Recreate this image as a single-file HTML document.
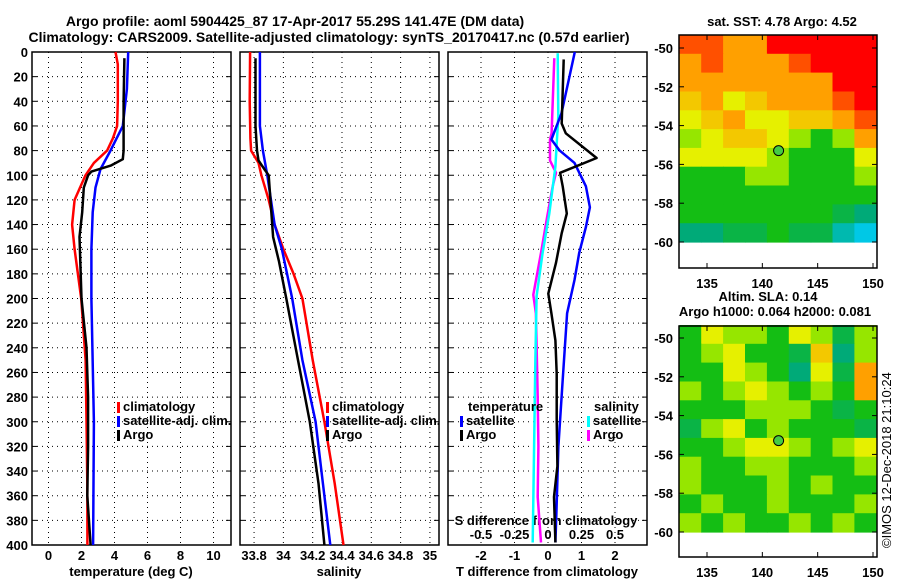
<!DOCTYPE html>
<html><head><meta charset="utf-8">
<style>
body{margin:0;background:#fff;}
svg{display:block;font-family:"Liberation Sans",sans-serif;font-weight:bold;font-size:13px;}
</style></head>
<body>
<svg id="c" width="900" height="580" xmlns="http://www.w3.org/2000/svg">
<text x="295" y="26" text-anchor="middle" font-size="14">Argo profile: aoml 5904425_87 17-Apr-2017 55.29S 141.47E (DM data)</text>
<text x="329" y="42" text-anchor="middle" font-size="14" textLength="601">Climatology: CARS2009. Satellite-adjusted climatology: synTS_20170417.nc (0.57d earlier)</text>
<text x="782" y="26" text-anchor="middle">sat. SST: 4.78 Argo: 4.52</text>
<text x="768" y="301" text-anchor="middle">Altim. SLA: 0.14</text>
<text x="775" y="316" text-anchor="middle">Argo h1000: 0.064 h2000: 0.081</text>
<text transform="translate(891,548) rotate(-90)" font-weight="normal" font-size="13">©IMOS 12-Dec-2018 21:10:24</text>
</svg>
<script>
// ---------- data ----------
const tClimDepth=[0,10,40,60,70,80,90,100,120,140,160,180,200,250,300,350,400];
const tClimVal=[4.06,4.2,4.2,4.16,3.9,3.55,2.75,2.24,1.58,1.43,1.58,1.78,1.98,2.25,2.3,2.35,2.36];
const tArgoDepth=[5,40,80,87,92,97,100,110,130,150,180,200,240,280,320,360,400];
const tArgoVal=[4.6,4.55,4.55,4.5,3.8,2.6,2.4,2.14,2.04,1.88,1.95,2.0,2.3,2.4,2.4,2.35,2.55];
const tSatDepth=[0,30,60,80,95,110,130,160,200,300,400];
const tSatVal=[4.83,4.75,4.5,3.76,3.15,2.85,2.68,2.6,2.6,2.75,2.7];
const sClimDepth=[0,40,70,80,90,100,120,140,160,180,200,250,300,350,400];
const sClimVal=[33.773,33.77,33.775,33.78,33.83,33.85,33.9,33.94,34.0,34.07,34.13,34.2,34.28,34.35,34.41];
const sArgoDepth=[5,60,80,88,95,100,150,170,200,250,300,350,400];
const sArgoVal=[33.81,33.81,33.82,33.83,33.87,33.9,33.93,33.97,34.02,34.1,34.18,34.24,34.28];
const sSatDepth=[0,60,80,100,140,160,200,250,300,350,400];
const sSatVal=[33.84,33.84,33.86,33.89,33.94,33.99,34.06,34.13,34.22,34.27,34.32];
const dTArgoDepth=[6,58,66,86,98,109,131,147,171,196,212,234,261,298,336,361,398];
const dTArgoVal=[0.47,0.41,0.53,1.45,0.36,0.44,0.56,0.41,0.24,0.01,0.1,0.22,0.26,0.26,0.28,0.18,0.22];
const dTSatDepth=[0,50,71,80,90,109,126,142,163,185,212,266,320,374,398];
const dTSatVal=[0.8,0.4,0.1,0.35,0.79,1.13,1.25,1.13,0.93,0.79,0.57,0.44,0.31,0.25,0.22];
const dSArgoDepth=[5,66,71,88,98,109,134,163,197,212,280,320,361,398];
const dSArgoVal=[0.047,0.027,0.015,0.015,0.06,0.035,-0.007,-0.052,-0.11,-0.09,-0.077,-0.072,-0.077,-0.052];
const dSSatDepth=[1,52,93,131,163,198,253,320,398];
const dSSatVal=[0.072,0.077,0.055,0.01,-0.04,-0.085,-0.095,-0.104,-0.114];
const depthTicks=[0,20,40,60,80,100,120,140,160,180,200,220,240,260,280,300,320,340,360,380,400];
const tTicks=[0,2,4,6,8,10];
const sTicks=[33.8,34,34.2,34.4,34.6,34.8,35];
const sTickLabels=['33.8','34','34.2','34.4','34.6','34.8','35'];
const dTTicks=[-2,-1,0,1,2];
const dSTicks=[-0.5,-0.25,0,0.25,0.5];
const lonTicks=[135,140,145,150];
const latTicks=[-50,-52,-54,-56,-58,-60];
const sstGrid=[
[5.5,5.5,5,5,6,6,6,6,6],
[5,5.5,5,5,5,5.5,6,6,6],
[5,5,5,5,5,5,5,6,6],
[4.5,5,4,4.5,5,5,5,5.5,6],
[4,4.5,5,4,4,4.5,4.5,5,5.5],
[3.5,4,4.5,4.5,4,3.5,3,3.5,5],
[4,4,4,4,3.5,3,3,3,4],
[3,3,3,3.5,3.5,3,3,3,3.5],
[3,3,3,3,3,3,3,3,3],
[3,3,3,3,3,3,3,2.5,2],
[2,2,2.5,2.5,3,2.5,2.5,1.5,1]];
const slaGrid=[
[3,4,3.5,3.5,3,4,3.5,2.5,3.5],
[3,3.5,4,3,3,2.5,4.5,2,3.5],
[3,3,4,3.5,3,2,4,2.5,5],
[3.5,3,3.5,4,3.5,3,3.5,3,5],
[3,3,3,3.5,3.5,3.5,3,2.5,3],
[2.5,3.5,4,3,3.5,3,3,3,2.5],
[3,3,3.5,4,4,3.5,3,3.5,4],
[3.5,3,3,3.5,3.5,3,3,3,3.5],
[3.5,3,3,3,3.5,3,3.5,3,3],
[3,3.5,3,3,3.5,3,3,3,3.5],
[3.5,3,3.5,3,3,3.5,3,3.5,3]];
const argoLon=141.47, argoLat=-55.29;

// ---------- drawing ----------
const svg=document.getElementById('c');
const NS='http://www.w3.org/2000/svg';
function mk(tag,attrs,parent){const e=document.createElementNS(NS,tag);for(const k in attrs)e.setAttribute(k,attrs[k]);(parent||svg).appendChild(e);return e;}
function txt(x,y,s,anchor,parent){const t=mk('text',{x:x,y:y,'text-anchor':anchor||'middle'},parent);t.textContent=s;return t;}
const top0=52,bot0=545;
const yD=d=>top0+(bot0-top0)*d/400;

function panel(name,x0,x1,lo,hi){
  const g=mk('g',{});
  
  
  const xs=v=>x0+(x1-x0)*(v-lo)/(hi-lo);
  return {g,xs,x0,x1};
}
function grid(p,vticks){
  depthTicks.forEach(d=>{if(d>0&&d<400){const l=mk('line',{x1:p.x0,x2:p.x1,y1:yD(d),y2:yD(d),stroke:'#000','stroke-dasharray':'1 4'},p.g);
    
    }
    mk('line',{x1:p.x0,x2:p.x0+5,y1:yD(d),y2:yD(d),stroke:'#000'},p.g);
    mk('line',{x1:p.x1-5,x2:p.x1,y1:yD(d),y2:yD(d),stroke:'#000'},p.g);});
  vticks.forEach(v=>{const x=p.xs(v);const l=mk('line',{x1:x,x2:x,y1:top0,y2:bot0,stroke:'#000','stroke-dasharray':'1 4'},p.g);
    
    });
  const r=mk('rect',{x:p.x0,y:top0,width:p.x1-p.x0,height:bot0-top0,fill:'none',stroke:'#000','stroke-width':1.5},p.g);
  
  
}
function line(p,ds,vs,col,name,xs){
  const f=xs||p.xs;
  const pts=ds.map((d,i)=>f(vs[i]).toFixed(1)+','+yD(d).toFixed(1)).join(' ');
  const l=mk('polyline',{points:pts,fill:'none',stroke:col,'stroke-width':2.5,'stroke-linejoin':'round'},p.g);
  
  
}
function legend(p,x,y,col,label){
  mk('rect',{x:x,y:y-9,width:3,height:11,fill:col},p.g);
  const t=txt(x+6,y,label,'start',p.g);
  
  
}

// Panel 1 temperature
const p1=panel('temperature-panel',32,231,-1,11.06);
grid(p1,tTicks);
depthTicks.forEach(d=>{const t=txt(28,yD(d)+5,String(d),'end',p1.g);
  
  });
tTicks.forEach(v=>{const t=txt(p1.xs(v),560,String(v),'middle',p1.g);
  
  });
const at1=txt(131,576,'temperature (deg C)','middle',p1.g);


line(p1,tClimDepth,tClimVal,'#f00','temp-climatology-line');
line(p1,tSatDepth,tSatVal,'#00f','temp-satellite-line');
line(p1,tArgoDepth,tArgoVal,'#000','temp-argo-line');
legend(p1,117,411,'#f00','climatology');
legend(p1,117,425,'#00f','satellite-adj. clim.');
legend(p1,117,439,'#000','Argo');

// Panel 2 salinity
const p2=panel('salinity-panel',240,439,33.704,35.062);
grid(p2,sTicks);
sTicks.forEach((v,i)=>{const t=txt(p2.xs(v),560,sTickLabels[i],'middle',p2.g);
  
  });
const at2=txt(339,576,'salinity','middle',p2.g);


line(p2,sClimDepth,sClimVal,'#f00','sal-climatology-line');
line(p2,sSatDepth,sSatVal,'#00f','sal-satellite-line');
line(p2,sArgoDepth,sArgoVal,'#000','sal-argo-line');
legend(p2,326,411,'#f00','climatology');
legend(p2,326,425,'#00f','satellite-adj. clim.');
legend(p2,326,439,'#000','Argo');

// Panel 3 differences
const p3=panel('difference-panel',448,647,-2.985,2.955);
grid(p3,dTTicks);
const xsS=v=>p3.xs(v*4);
dTTicks.forEach(v=>{const t=txt(p3.xs(v),560,String(v),'middle',p3.g);
  
  });
dSTicks.forEach(v=>{const t=txt(xsS(v),539,String(v),'middle',p3.g);
  
  });
const at3=txt(547,576,'T difference from climatology','middle',p3.g);


const at4=txt(546,525,'S difference from climatology','middle',p3.g);


line(p3,dSArgoDepth,dSArgoVal,'#f0f','sdiff-argo-line',xsS);
line(p3,dSSatDepth,dSSatVal,'#0ff','sdiff-satellite-line',xsS);
line(p3,dTSatDepth,dTSatVal,'#00f','tdiff-satellite-line');
line(p3,dTArgoDepth,dTArgoVal,'#000','tdiff-argo-line');
const lt=txt(468,411,'temperature','start',p3.g);


legend(p3,460,425,'#00f','satellite');
legend(p3,460,439,'#000','Argo');
const ls=txt(594,411,'salinity','start',p3.g);


legend(p3,587,425,'#0ff','satellite');
legend(p3,587,439,'#f0f','Argo');

// Maps
const stops=[[0,[0,80,255]],[1,[0,200,230]],[2,[0,170,120]],[3,[20,190,20]],[3.5,[150,230,0]],[4,[230,240,0]],[5,[255,160,0]],[6,[255,0,0]]];
function cmap(v){for(let i=1;i<stops.length;i++){if(v<=stops[i][0]){const a=stops[i-1],b=stops[i];const t=(v-a[0])/(b[0]-a[0]);const c=a[1].map((x,k)=>Math.round(x+(b[1][k]-x)*t));return 'rgb('+c.join(',')+')';}}return 'rgb(255,0,0)';}
function map(name,grid,top,bot,latTopPx){
  const g=mk('g',{});
  
  
  const L=679,R=877;
  const lonX=lon=>707+(lon-135)*(873-707)/15;
  const latY=lat=>latTopPx+(lat+50)*-19.4;
  const latTop=-49.33,latBot=-60, lonL=132.5, lonR=150.3;
  const nr=grid.length,nc=grid[0].length;
  grid.forEach((row,r)=>row.forEach((v,c)=>{
    const la0=latTop+(latBot-latTop)*r/nr, la1=latTop+(latBot-latTop)*(r+1)/nr;
    const lo0=lonL+(lonR-lonL)*c/nc, lo1=lonL+(lonR-lonL)*(c+1)/nc;
    const x=Math.max(L,lonX(lo0)), x2=Math.min(R,lonX(lo1));
    const rc=mk('rect',{x:x.toFixed(1),y:latY(la0).toFixed(1),width:(x2-x+0.6).toFixed(1),height:(latY(la1)-latY(la0)+0.6).toFixed(1),fill:cmap(v)},g);
    
    
  }));
  const fr=mk('rect',{x:L,y:top,width:R-L,height:bot-top,fill:'none',stroke:'#000','stroke-width':1.5},g);
  
  
  lonTicks.forEach(lon=>{const x=lonX(lon);mk('line',{x1:x,x2:x,y1:bot,y2:bot-5,stroke:'#000'},g);mk('line',{x1:x,x2:x,y1:top,y2:top+5,stroke:'#000'},g);
    const t=txt(x,bot+20,String(lon),'middle',g);
    
    });
  latTicks.forEach(lat=>{const y=latY(lat);mk('line',{x1:L,x2:L+5,y1:y,y2:y,stroke:'#000'},g);mk('line',{x1:R,x2:R-5,y1:y,y2:y,stroke:'#000'},g);
    const t=txt(673,y+5,String(lat),'end',g);
    
    });
  const m=mk('circle',{cx:lonX(argoLon),cy:latY(argoLat),r:5,fill:'#4c4',stroke:'#000','stroke-width':1},g);
  
  
}
map('sst-map',sstGrid,35,268,48);
map('sla-map',slaGrid,326,557,338);
</script>
</body></html>
